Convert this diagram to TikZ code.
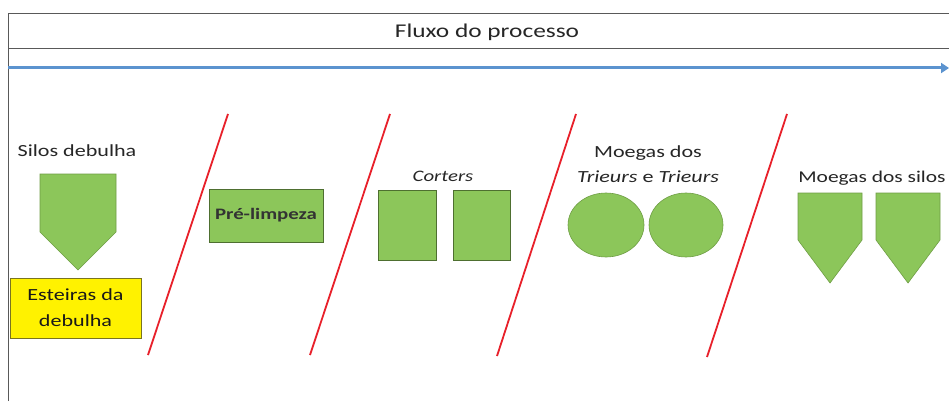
\documentclass[tikz,border=0pt]{standalone}
\usepackage{fontspec}
\setmainfont{Carlito}[FakeStretch=1.3]
\usetikzlibrary{arrows.meta}
\definecolor{grn}{HTML}{8CC65A}
\definecolor{grnd}{HTML}{6F9E45}
\definecolor{grndark}{HTML}{4E6F30}
\definecolor{flowblue}{HTML}{5B93CF}
\definecolor{sepred}{HTML}{E8202A}
\definecolor{olive}{HTML}{7A7420}
\tikzset{
  frame/.style={draw=gray!70!black, line width=0.8pt},
  sep/.style={draw=sepred, line width=1.8pt},
  gshape/.style={fill=grn, draw=grnd, line width=0.6pt},
  gbox/.style={fill=grn, draw=grndark, line width=0.8pt},
  lbl/.style={font=\fontsize{17}{25}\selectfont, text=black!85, inner sep=0pt},
}
\begin{document}
\begin{tikzpicture}[x=1pt,y=-1pt]
\useasboundingbox[fill=white] (0,0) rectangle (949,401);
% frame
\draw[frame] (8,401) -- (8,13) -- (949,13);
\draw[frame] (8,48) -- (949,48);
\node[lbl, font=\fontsize{19.5}{22}\selectfont] (title) at (487,32) {Fluxo do processo};
% flow arrow
\coordinate (fs) at (8,68);
\coordinate (fe) at (949,68);
\draw[flowblue, line width=3pt, -{Triangle[length=8pt,width=10pt]}] (fs) -- (fe);
% red separators
\draw[sep] (148,355) -- (228,114);
\draw[sep] (310,355) -- (390,114);
\draw[sep] (497,356) -- (576,114);
\draw[sep] (707,357) -- (787,114);
% silos debulha
\node[lbl] (silos) at (77,151) {Silos debulha};
\draw[gshape] (40,174) -- (116,174) -- (116,232) -- (78,270) -- (40,232) -- cycle;
\node[fill=yellow, draw=olive, line width=0.8pt, minimum width=131pt, minimum height=60pt, inner sep=0pt, align=center, font=\fontsize{17}{26}\selectfont, text=black!90] (est) at (75.5,308) {Esteiras da\\debulha};
% pre-limpeza
\node[gbox, minimum width=114pt, minimum height=53pt, inner sep=0pt, font=\fontsize{16}{18}\selectfont\bfseries, text=black!80] (pre) at (266,215.5) {Pré-limpeza};
% corters
\node[lbl, font=\fontsize{16}{18}\selectfont\itshape] (corters) at (443,176) {Corters};
\node[gbox, minimum width=58pt, minimum height=70pt, inner sep=0pt] (c1) at (407,225) {};
\node[gbox, minimum width=57pt, minimum height=70pt, inner sep=0pt] (c2) at (481.5,225) {};
% moegas trieurs
\node[lbl, align=center] (moeg) at (648,164) {Moegas dos\\\textit{Trieurs} e \textit{Trieurs}};
\draw[gshape] (606,225) ellipse [x radius=38, y radius=32];
\draw[gshape] (686,225) ellipse [x radius=37, y radius=32];
% moegas silos
\node[lbl, font=\fontsize{16.5}{20}\selectfont] (msilos) at (872,178) {Moegas dos silos};
\draw[gshape] (798,193) -- (862,193) -- (862,240) -- (830,283) -- (798,240) -- cycle;
\draw[gshape] (876,193) -- (940,193) -- (940,240) -- (908,283) -- (876,240) -- cycle;
\end{tikzpicture}
\end{document}
